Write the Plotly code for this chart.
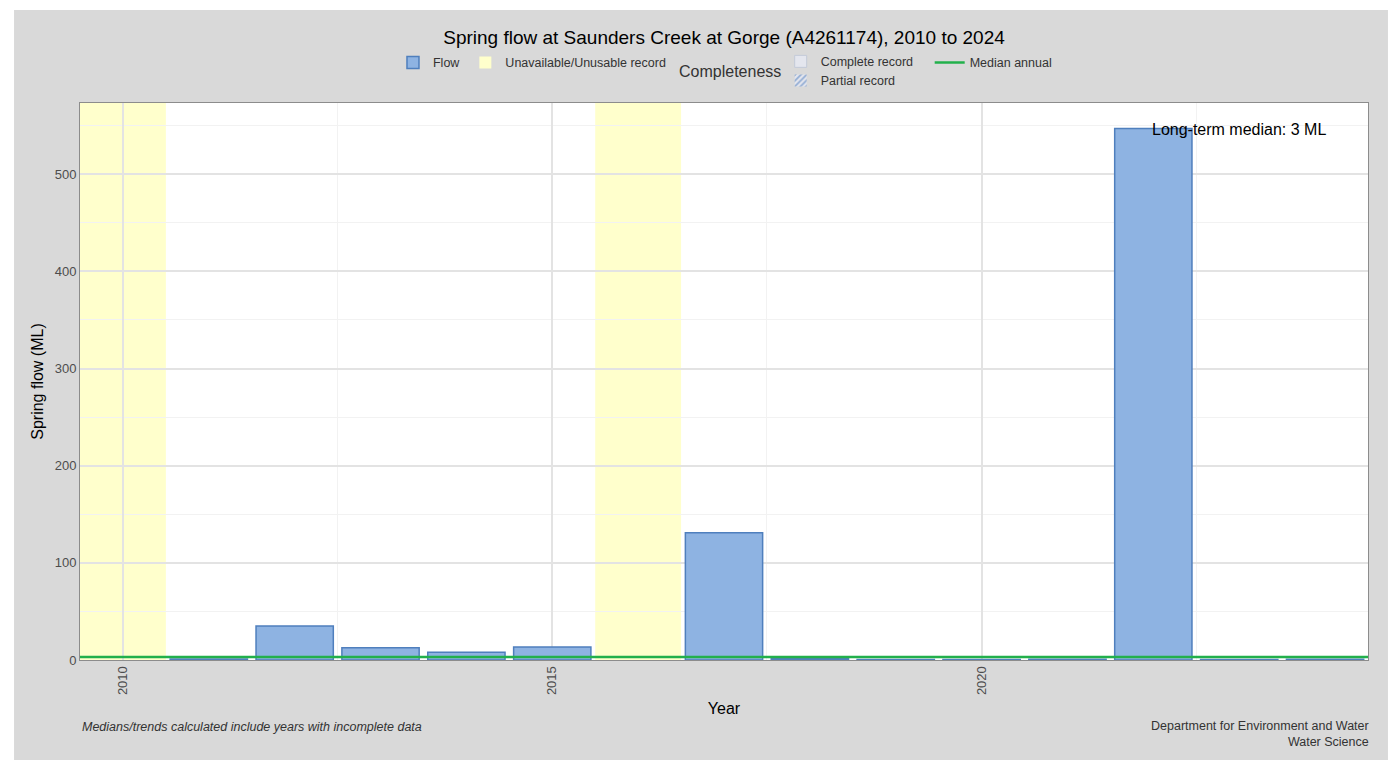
import plotly.graph_objects as go

years = [2010, 2011, 2012, 2013, 2014, 2015, 2016, 2017, 2018, 2019, 2020, 2021, 2022, 2023, 2024]
flow = [None, 1.0, 35, 12.5, 8, 13.5, None, 131, 1.5, 0.5, 0.5, 0.8, 547, 0.5, 0.9]
unavailable_years = [2010, 2016]
median_annual = 3

title = "Spring flow at Saunders Creek at Gorge (A4261174), 2010 to 2024"
footnote = "Medians/trends calculated include years with incomplete data"
credit = "Department for Environment and Water<br>Water Science"

font = "Liberation Sans, Arial, sans-serif"
flow_fill = "#8eb3e2"
flow_line = "#4f7fbd"
yellow = "#ffffcc"
green = "#22b04b"

fig = go.Figure()

fig.add_trace(go.Bar(
    x=years, y=flow, width=0.9, name="Flow",
    marker=dict(color=flow_fill, line=dict(color=flow_line, width=1.5)),
    legend="legend", showlegend=True,
))
fig.add_trace(go.Bar(
    x=[None], y=[None], name="Unavailable/Unusable record",
    marker=dict(color=yellow, line=dict(color=yellow, width=0)),
    legend="legend",
))
fig.add_trace(go.Bar(
    x=[None], y=[None], name="Complete record",
    marker=dict(color="#e4e6ee", line=dict(color="#c3cad8", width=1)),
    legend="legend2",
))
fig.add_trace(go.Bar(
    x=[None], y=[None], name="Partial record",
    marker=dict(color="#e4e6ee", line=dict(color="#c3cad8", width=0),
                pattern=dict(shape="/", fgcolor="#3f72b8", bgcolor="#e4e6ee",
                             size=5, solidity=0.45)),
    legend="legend2",
))
fig.add_trace(go.Scatter(
    x=[years[0] - 0.5, years[-1] + 0.5], y=[median_annual, median_annual],
    mode="lines", name="Median annual", line=dict(color=green, width=2.5),
    legend="legend3",
))

for yr in unavailable_years:
    fig.add_shape(type="rect", xref="x", yref="paper", x0=yr - 0.5, x1=yr + 0.5,
                  y0=0, y1=1, fillcolor=yellow, line_width=0, layer="below")

# white page strips around the grey panel
fig.add_shape(type="rect", xref="paper", yref="paper", x0=-0.07, x1=-0.0512, y0=-0.2, y1=1.2,
              fillcolor="white", line_width=0, layer="below")
fig.add_shape(type="rect", xref="paper", yref="paper", x0=-0.07, x1=1.03, y0=1.167, y1=1.2,
              fillcolor="white", line_width=0, layer="below")
fig.add_shape(type="rect", xref="paper", yref="paper", x0=1.0155, x1=1.03, y0=-0.2, y1=1.2,
              fillcolor="white", line_width=0, layer="below")

fig.add_annotation(text="Long-term median: %d ML" % median_annual, xref="paper", yref="paper",
                   x=0.9689, y=0.953, xanchor="right", yanchor="middle", showarrow=False,
                   font=dict(size=16, color="black", family=font))
fig.add_annotation(text="Completeness", xref="paper", yref="paper",
                   x=0.5047, y=1.0557, xanchor="center", yanchor="middle", showarrow=False,
                   font=dict(size=16, color="#333333", family=font))
fig.add_annotation(text="<i>" + footnote + "</i>", xref="paper", yref="paper",
                   x=0, y=-0.12, xanchor="left", yanchor="middle", showarrow=False,
                   font=dict(size=12.5, color="#333333", family=font))
fig.add_annotation(text=credit, xref="paper", yref="paper", align="right",
                   x=1.002, y=-0.133, xanchor="right", yanchor="middle", showarrow=False,
                   font=dict(size=12.5, color="#333333", family=font))

legend_common = dict(orientation="h", bgcolor="rgba(0,0,0,0)", yanchor="top",
                     font=dict(size=12.5, color="#333333", family=font))

fig.update_layout(
    width=1390, height=752,
    margin=dict(l=72, r=30, t=95, b=100),
    paper_bgcolor="#d9d9d9", plot_bgcolor="white",
    font=dict(family=font, size=12, color="#333333"),
    title=dict(text=title, x=0.5, xref="paper", y=0.961, yanchor="middle",
               font=dict(size=19, color="black", family=font)),
    barmode="overlay",
    legend=dict(x=0.243, y=1.099, xanchor="left", **legend_common),
    legend2=dict(x=0.544, y=1.101, xanchor="left", orientation="v", bgcolor="rgba(0,0,0,0)",
                 yanchor="top", tracegroupgap=0,
                 font=dict(size=12.5, color="#333333", family=font)),
    legend3=dict(x=0.6597, y=1.099, xanchor="left", **legend_common),
    xaxis=dict(
        range=[years[0] - 0.5, years[-1] + 0.5], tick0=2010, dtick=5, tickangle=-90,
        showgrid=True, gridcolor="#e3e3e3", gridwidth=2, zeroline=False,
        minor=dict(dtick=2.5, showgrid=True, gridcolor="#f2f2f2", gridwidth=1),
        showline=True, linecolor="#8c8c8c", linewidth=1, mirror=True,
        ticks="", tickfont=dict(size=13, color="#4d4d4d"),
        title=dict(text="Year", standoff=8, font=dict(size=16, color="black")),
    ),
    yaxis=dict(
        range=[0, max(v for v in flow if v is not None) * 1.048], dtick=100,
        showgrid=True, gridcolor="#e3e3e3", gridwidth=2, zeroline=False,
        minor=dict(dtick=50, showgrid=True, gridcolor="#f2f2f2", gridwidth=1),
        showline=True, linecolor="#8c8c8c", linewidth=1, mirror=True,
        ticks="", tickfont=dict(size=13, color="#4d4d4d"),
        title=dict(text="Spring flow (ML)", standoff=7, font=dict(size=16, color="black")),
    ),
    showlegend=True,
)

fig.write_html("out.html")
